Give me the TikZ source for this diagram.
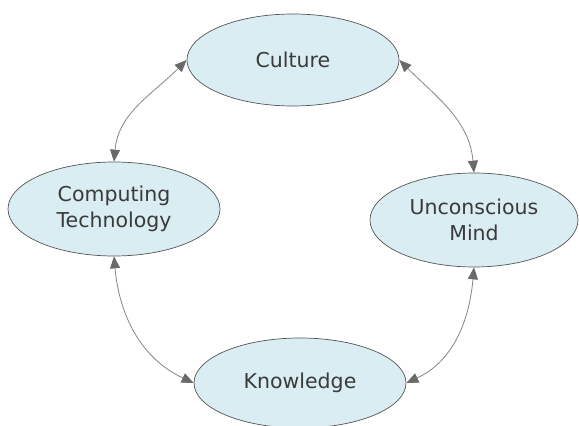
\documentclass[tikz,border=0pt]{standalone}
\usepackage{fontspec}
\setmainfont{DejaVu Sans}
\usetikzlibrary{shapes.geometric,arrows.meta}
\definecolor{efill}{HTML}{DAEDF3}
\definecolor{eline}{HTML}{555555}
\definecolor{txt}{HTML}{3A3A3A}
\definecolor{conn}{HTML}{858585}
\definecolor{head}{HTML}{6A6A6A}
\begin{document}
\begin{tikzpicture}[x=1pt,y=1pt,
  topic/.style={ellipse,draw=eline,line width=0.7pt,fill=efill,inner sep=0pt,
    text=txt,font=\fontsize{20.5}{26}\selectfont,align=center},
  link/.style={draw=conn,line width=0.8pt,
    {Triangle[length=12pt,width=10pt,color=head]}-{Triangle[length=12pt,width=10pt,color=head]}}]
\useasboundingbox (0,0) rectangle (579,426);
\node[topic,minimum width=212pt,minimum height=92pt] (culture) at (293,366) {Culture};
\node[topic,minimum width=212pt,minimum height=94pt] (comp) at (114,217) {Computing\\Technology};
\node[topic,minimum width=208pt,minimum height=94pt] (uncon) at (474,206) {Unconscious\\Mind};
\node[topic,minimum width=212pt,minimum height=90pt] (know) at (300,43) {Knowledge};
\draw[link] (culture.west) to[out=225,in=85] (comp.north);
\draw[link] (culture.east) to[out=-45,in=95] (uncon.north);
\draw[link] (comp.south) to[out=-85,in=155] (know.west);
\draw[link] (uncon.south) to[out=-95,in=25] (know.east);
\end{tikzpicture}
\end{document}
